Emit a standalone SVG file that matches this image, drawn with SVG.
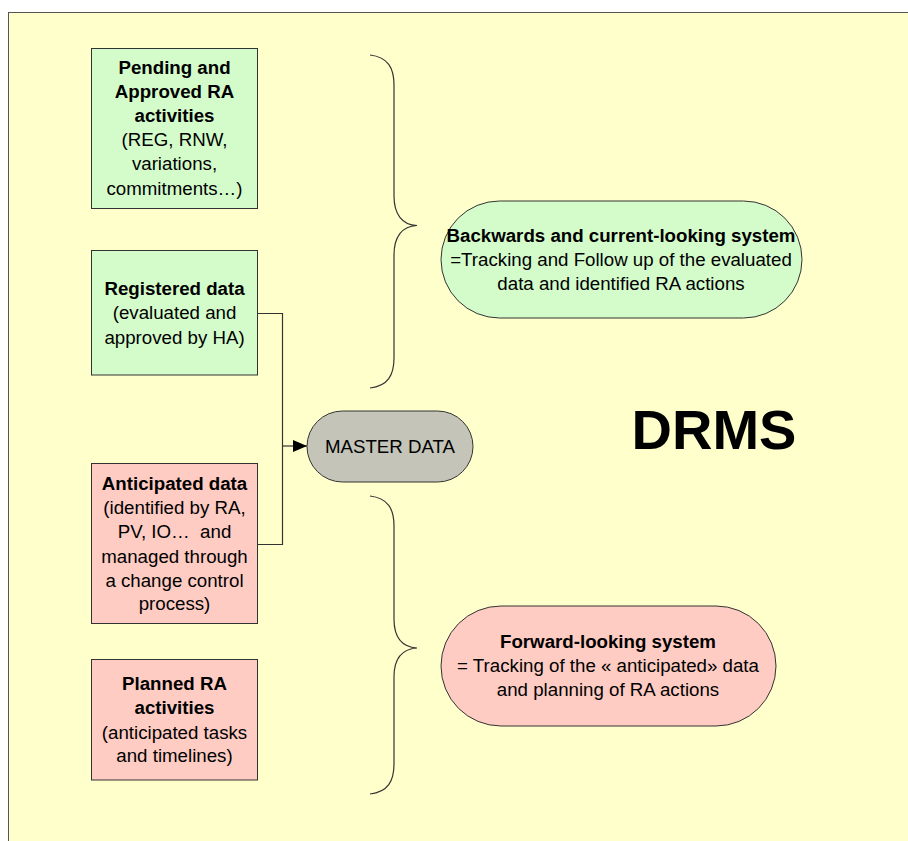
<svg xmlns="http://www.w3.org/2000/svg" width="908" height="841" viewBox="0 0 908 841">
<defs>
<style>
text{font-family:"Liberation Sans",Arial,sans-serif;fill:#000;text-anchor:middle}
.t{font-size:18.7px}
.b{font-weight:bold}
.green{fill:#D4FCCB;stroke:#333;stroke-width:1}
.pink{fill:#FECCC3;stroke:#333;stroke-width:1}
.gray{fill:#C4C4B8;stroke:#333;stroke-width:1}
.brace{fill:none;stroke:#333;stroke-width:1.2}
.conn{fill:none;stroke:#333;stroke-width:1.2}
</style>
<marker id="arr" markerWidth="14" markerHeight="12" refX="14" refY="6" orient="auto" markerUnits="userSpaceOnUse">
<path d="M0,0 L14,6 L0,12 z" fill="#000"/>
</marker>
</defs>
<rect x="0" y="0" width="908" height="841" fill="#fff"/>
<rect x="8.5" y="12.5" width="910" height="840" fill="#FFFFCC" stroke="#555" stroke-width="1"/>

<g id="connectors">
<path class="conn" d="M257.5,313.5 H282.5 V544.5 H257.5"/>
<path class="conn" d="M282.5,446 H307" marker-end="url(#arr)"/>
</g>

<g id="braces">
<path class="brace" d="M370,55 C388,57 394,68 394,85 V196 C394,214 402,225 417,225.5 C402,226 394,237 394,255 V358 C394,375 388,386 370,388"/>
<path class="brace" d="M370,496 C388,498 394,509 394,526 V619 C394,637 402,647 417,648 C402,649 394,659 394,677 V764 C394,781 388,792 370,794"/>
</g>

<g id="pending">
<rect class="green" x="91.5" y="48.5" width="166" height="160"/>
<text class="t b" x="174.5" y="73.5">Pending and</text>
<text class="t b" x="174.5" y="97.5">Approved RA</text>
<text class="t b" x="174.5" y="121.5">activities</text>
<text class="t" x="174.5" y="146">(REG, RNW,</text>
<text class="t" x="174.5" y="170">variations,</text>
<text class="t" x="174.5" y="194.5">commitments…)</text>
</g>

<g id="registered">
<rect class="green" x="91.5" y="250.5" width="166" height="124.5"/>
<text class="t b" x="174.5" y="295">Registered data</text>
<text class="t" x="174.5" y="319">(evaluated and</text>
<text class="t" x="174.5" y="343.5">approved by HA)</text>
</g>

<g id="anticipated">
<rect class="pink" x="91.5" y="463.5" width="166" height="160"/>
<text class="t b" x="174.5" y="490">Anticipated data</text>
<text class="t" x="174.5" y="514">(identified by RA,</text>
<text class="t" x="174.5" y="538" xml:space="preserve">PV, IO…  and</text>
<text class="t" x="174.5" y="562.5">managed through</text>
<text class="t" x="174.5" y="586.5">a change control</text>
<text class="t" x="174.5" y="610">process)</text>
</g>

<g id="planned">
<rect class="pink" x="91.5" y="659.5" width="166" height="120.5"/>
<text class="t b" x="174.5" y="690">Planned RA</text>
<text class="t b" x="174.5" y="714">activities</text>
<text class="t" x="174.5" y="738.5">(anticipated tasks</text>
<text class="t" x="174.5" y="761.5">and timelines)</text>
</g>

<g id="master">
<rect class="gray" x="307" y="411" width="166" height="71" rx="35.5" ry="35.5"/>
<text class="t" x="390" y="452.5">MASTER DATA</text>
</g>

<g id="backwards">
<rect class="green" x="441" y="201" width="361" height="117" rx="58.5" ry="58.5"/>
<text class="t b" x="621" y="242">Backwards and current-looking system</text>
<text class="t" x="621" y="266">=Tracking and Follow up of the evaluated</text>
<text class="t" x="621" y="290">data and identified RA actions</text>
</g>

<g id="forward">
<rect class="pink" x="441" y="606" width="335" height="120" rx="60" ry="60"/>
<text class="t b" x="608" y="648">Forward-looking system</text>
<text class="t" x="608" y="672">= Tracking of the « anticipated» data</text>
<text class="t" x="608" y="696">and planning of RA actions</text>
</g>

<g id="drms">
<text class="b" x="714" y="449" style="font-size:56px">DRMS</text>
</g>
</svg>
